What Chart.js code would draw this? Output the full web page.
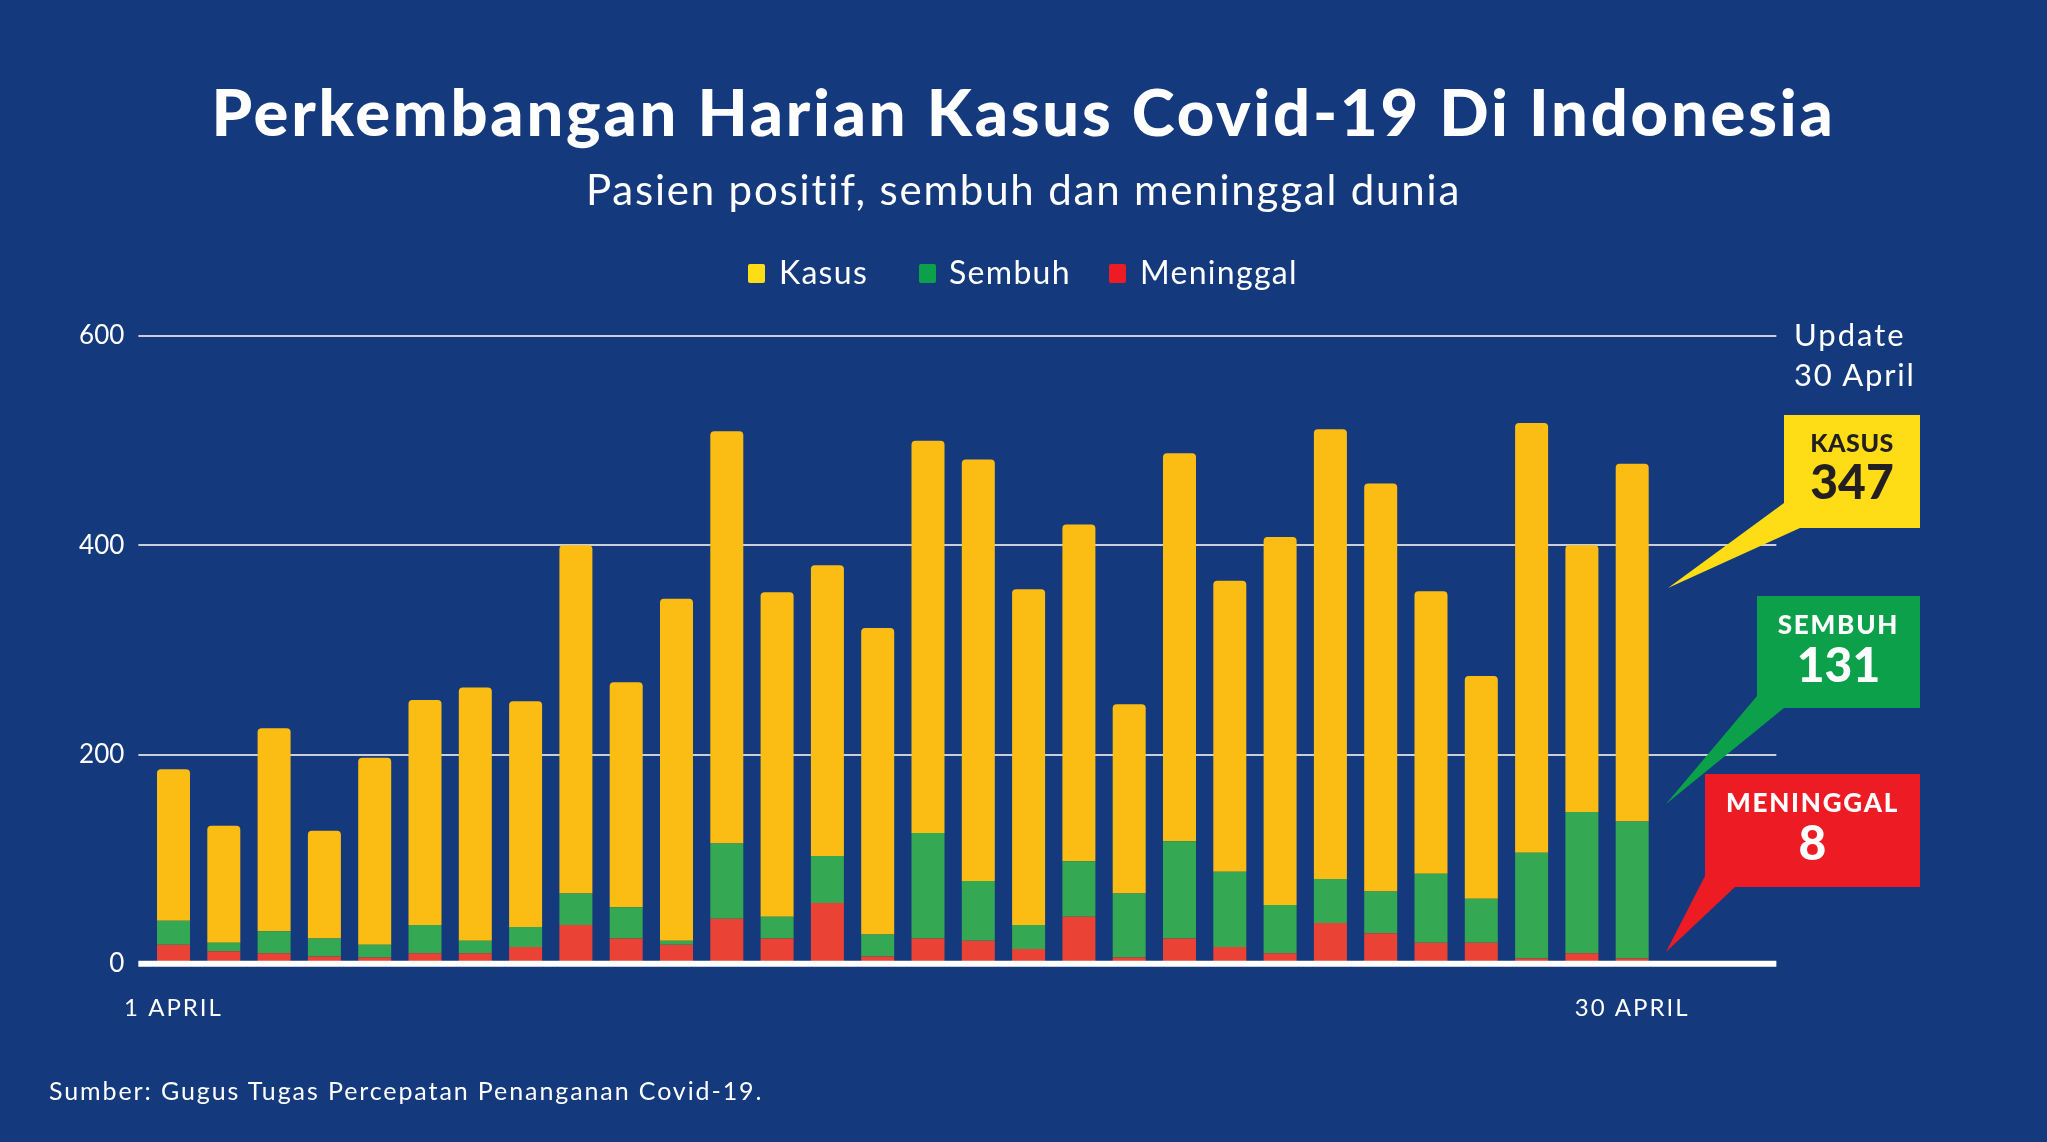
<!DOCTYPE html>
<html><head><meta charset="utf-8">
<script src="https://cdn.jsdelivr.net/npm/chart.js@4.4.1/dist/chart.umd.min.js"></script>
<style>
html,body{margin:0;padding:0;background:#143A7D;overflow:hidden}
#wrap{position:relative;width:2047px;height:1142px;background:#143A7D;font-family:Lato,"Open Sans",sans-serif;color:#fff}
canvas{position:absolute;left:0;top:0}
.t{position:absolute;white-space:nowrap;line-height:1}
.sq{position:absolute;border-radius:2px}
</style></head>
<body><div id="wrap">
<canvas id="c" width="2047" height="1142"></canvas>
<div class="t" style="left:0;width:2047px;text-align:center;top:79px;font-size:65px;font-weight:900;letter-spacing:2.8px">Perkembangan Harian Kasus Covid-19 Di Indonesia</div>
<div class="t" style="left:0;width:2047px;text-align:center;top:168px;font-size:42px;font-weight:400;letter-spacing:1.8px">Pasien positif, sembuh dan meninggal dunia</div>
<div class="sq" style="left:748px;top:264px;width:17px;height:19px;background:#FEDD17"></div>
<div class="t" style="left:779px;top:256px;font-size:32px;letter-spacing:1.3px">Kasus</div>
<div class="sq" style="left:919px;top:264px;width:17px;height:19px;background:#0DA04B"></div>
<div class="t" style="left:949px;top:256px;font-size:32px;letter-spacing:1.3px">Sembuh</div>
<div class="sq" style="left:1109px;top:264px;width:17px;height:19px;background:#ED1C24"></div>
<div class="t" style="left:1140px;top:256px;font-size:32px;letter-spacing:1.3px">Meninggal</div>
<div class="t" style="left:1794px;top:319px;font-size:31px;letter-spacing:2px">Update</div>
<div class="t" style="left:1794px;top:359px;font-size:31px;letter-spacing:1.8px">30 April</div>
<div class="t" style="left:49px;top:1078px;font-size:25px;letter-spacing:1.9px">Sumber: Gugus Tugas Percepatan Penanganan Covid-19.</div>
<div class="t" id="k1" style="left:1784px;width:136px;text-align:center;top:430px;font-size:25px;font-weight:900;color:#231F20;letter-spacing:0.5px"></div>
<div class="t" id="k2" style="left:1784px;width:136px;text-align:center;top:457px;font-size:48px;font-weight:900;color:#231F20"></div>
<div class="t" id="s1" style="left:1757px;width:163px;text-align:center;top:611px;font-size:26px;font-weight:900;letter-spacing:1.8px"></div>
<div class="t" id="s2" style="left:1757px;width:163px;text-align:center;top:640px;font-size:48px;font-weight:900"></div>
<div class="t" id="m1" style="left:1705px;width:215px;text-align:center;top:789px;font-size:26px;font-weight:900;letter-spacing:1.8px"></div>
<div class="t" id="m2" style="left:1705px;width:215px;text-align:center;top:818px;font-size:48px;font-weight:900"></div>
</div>
<script>
// ---- data (daily values, April 2020) ----
const days = ["1 APRIL","2 APRIL","3 APRIL","4 APRIL","5 APRIL","6 APRIL","7 APRIL","8 APRIL","9 APRIL","10 APRIL",
  "11 APRIL","12 APRIL","13 APRIL","14 APRIL","15 APRIL","16 APRIL","17 APRIL","18 APRIL","19 APRIL","20 APRIL",
  "21 APRIL","22 APRIL","23 APRIL","24 APRIL","25 APRIL","26 APRIL","27 APRIL","28 APRIL","29 APRIL","30 APRIL"];
const meninggal = [18,12,10,7,6,10,10,16,37,24,18,43,24,58,7,24,22,14,45,6,24,16,10,39,29,20,20,5,10,5];
const sembuh    = [23,8,21,17,12,27,12,19,30,30,4,72,21,45,21,101,57,23,53,61,93,72,46,42,40,66,42,101,135,131];
const kasus     = [145,112,194,103,179,215,242,216,333,215,327,394,310,278,293,375,403,321,322,181,371,278,352,430,390,270,213,411,255,342];
const yTicks = [0,200,400,600];
const calloutLabels = ["KASUS","SEMBUH","MENINGGAL"];
const calloutValues = [347,131,8];

document.getElementById('k1').textContent = calloutLabels[0];
document.getElementById('k2').textContent = calloutValues[0];
document.getElementById('s1').textContent = calloutLabels[1];
document.getElementById('s2').textContent = calloutValues[1];
document.getElementById('m1').textContent = calloutLabels[2];
document.getElementById('m2').textContent = calloutValues[2];

const decor = {
  id:'decor',
  beforeDatasetsDraw(chart){
    const {ctx, chartArea:a, scales:{y}} = chart;
    ctx.save();
    ctx.strokeStyle = '#C9CED8'; ctx.lineWidth = 2;
    yTicks.forEach(v=>{ if(v===0) return;
      const py = Math.round(y.getPixelForValue(v));
      ctx.beginPath(); ctx.moveTo(a.left-10, py); ctx.lineTo(a.right+119, py); ctx.stroke();
    });
    ctx.restore();
  },
  afterDatasetsDraw(chart){
    const {ctx, chartArea:a, scales:{y}} = chart;
    ctx.save();
    ctx.strokeStyle = '#FFFFFF'; ctx.lineWidth = 6;
    const py = y.getPixelForValue(0);
    ctx.beginPath(); ctx.moveTo(a.left-10, py); ctx.lineTo(a.right+119, py); ctx.stroke();
    // callout shapes
    const shapes = [
      ['#FEDD17', [[1784,415],[1920,415],[1920,528],[1800,528],[1668,588],[1784,503]]],
      ['#0DA04B', [[1757,596],[1920,596],[1920,708],[1784,708],[1666,804],[1757,696]]],
      ['#ED1C24', [[1705,774],[1920,774],[1920,887],[1735,887],[1666,952],[1705,876]]]
    ];
    shapes.forEach(([col, pts])=>{
      ctx.fillStyle = col; ctx.beginPath();
      pts.forEach((p,i)=> i? ctx.lineTo(p[0],p[1]) : ctx.moveTo(p[0],p[1]));
      ctx.closePath(); ctx.fill();
    });
    ctx.restore();
  }
};

const n = days.length;
new Chart(document.getElementById('c'), {
  type:'bar',
  data:{ labels: days, datasets:[
    {label:'Meninggal', data: meninggal, backgroundColor:'#EA4335', borderWidth:0},
    {label:'Sembuh', data: sembuh, backgroundColor:'#34A853', borderWidth:0},
    {label:'Kasus', data: kasus, backgroundColor:'#FBBD13', borderWidth:0,
      borderRadius:{topLeft:4, topRight:4, bottomLeft:0, bottomRight:0}, borderSkipped:false}
  ]},
  options:{
    responsive:false, animation:false, devicePixelRatio:1,
    categoryPercentage:1, barPercentage:0.656,
    layout:{padding:{left:0, right:389.65, top:336.1, bottom:118.3}},
    plugins:{legend:{display:false}, tooltip:{enabled:false}, title:{display:false}},
    scales:{
      x:{ stacked:true, grid:{display:false}, border:{display:false},
        afterFit(s){ s.height = 60; },
        afterUpdate(s){
          if(s._lsWrapped) return; s._lsWrapped = true;
          const orig = s.drawLabels;
          s.drawLabels = function(area){ const c=this.ctx; c.save(); c.letterSpacing='2px'; orig.call(this, area); c.restore(); };
        },
        ticks:{ autoSkip:false, maxRotation:0, color:'#FFFFFF', padding:22,
          font:{family:'Lato', size:24},
          callback:(v,i)=> (i===0||i===n-1) ? days[i] : '' } },
      y:{ stacked:true, min:0, max:600, grid:{display:false, drawTicks:false}, border:{display:false},
        afterFit(s){ s.width = 148.35; },
        afterBuildTicks(s){ s.ticks = yTicks.map(v=>({value:v})); },
        ticks:{ color:'#FFFFFF', padding:24, font:{family:'Lato', size:26} } }
    }
  },
  plugins:[decor]
});
</script>
</body></html>
